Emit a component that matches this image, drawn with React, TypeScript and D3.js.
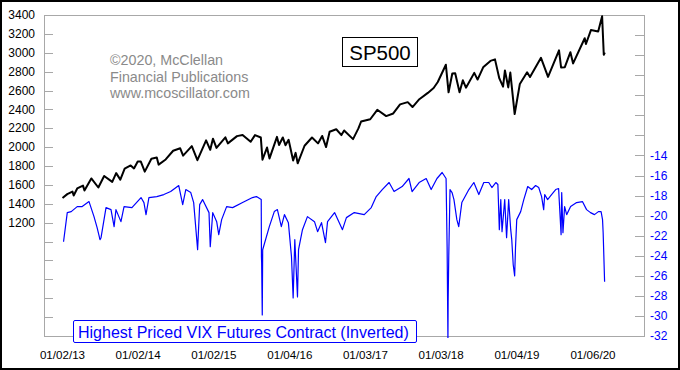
import React from "react";
import * as d3 from "d3";

// S&P 500 closes (approximate)
const spDates = [
  "2013-01-02", "2013-01-25", "2013-02-19", "2013-02-25", "2013-03-14", "2013-04-11", "2013-04-18",
  "2013-05-21", "2013-06-24", "2013-07-22", "2013-08-30", "2013-09-18", "2013-10-08", "2013-10-29",
  "2013-11-27", "2013-12-13", "2013-12-31", "2014-01-15", "2014-02-03", "2014-03-07", "2014-04-02",
  "2014-04-11", "2014-05-15", "2014-06-20", "2014-07-24", "2014-08-07", "2014-09-18", "2014-10-15",
  "2014-11-26", "2014-12-16", "2014-12-29", "2015-01-15", "2015-02-27", "2015-03-11", "2015-04-24",
  "2015-05-21", "2015-06-29", "2015-07-20", "2015-08-17", "2015-08-25", "2015-09-16", "2015-09-28",
  "2015-11-03", "2015-11-13", "2015-12-01", "2015-12-14", "2015-12-29", "2016-01-20", "2016-02-01",
  "2016-02-11", "2016-03-15", "2016-04-20", "2016-05-19", "2016-06-08", "2016-06-27", "2016-07-14",
  "2016-08-15", "2016-09-09", "2016-09-22", "2016-11-04", "2016-11-30", "2016-12-13", "2017-01-26",
  "2017-03-01", "2017-04-13", "2017-05-17", "2017-06-19", "2017-07-26", "2017-08-18", "2017-09-20",
  "2017-10-31", "2017-11-28", "2017-12-18", "2018-01-26", "2018-02-08", "2018-02-26", "2018-03-12",
  "2018-04-02", "2018-04-18", "2018-05-03", "2018-06-12", "2018-06-28", "2018-07-25", "2018-08-29",
  "2018-09-20", "2018-10-11", "2018-10-29", "2018-11-07", "2018-11-23", "2018-12-03", "2018-12-24",
  "2019-01-18", "2019-02-22", "2019-03-08", "2019-04-30", "2019-06-03", "2019-07-26", "2019-08-05",
  "2019-08-23", "2019-09-19", "2019-10-02", "2019-11-27", "2019-12-03", "2019-12-27", "2020-01-31",
  "2020-02-19", "2020-02-27", "2020-03-03",
];
const spClose = [
  1462, 1503, 1530, 1488, 1563, 1593, 1541,
  1669, 1573, 1695, 1633, 1725, 1656, 1772,
  1807, 1775, 1848, 1848, 1741, 1878, 1890,
  1815, 1870, 1962, 1988, 1910, 2011, 1862,
  2072, 1972, 2090, 1992, 2104, 2040, 2117,
  2130, 2057, 2128, 2102, 1868, 1996, 1881,
  2109, 2023, 2103, 2021, 2078, 1859, 1940,
  1829, 2015, 2102, 2040, 2119, 2001, 2163,
  2190, 2128, 2177, 2085, 2199, 2272, 2296,
  2396, 2329, 2357, 2453, 2477, 2425, 2508,
  2575, 2627, 2690, 2873, 2581, 2780, 2783,
  2582, 2708, 2630, 2787, 2716, 2846, 2914,
  2930, 2728, 2641, 2813, 2633, 2790, 2351,
  2670, 2793, 2743, 2946, 2744, 3026, 2845,
  2847, 3006, 2887, 3154, 3093, 3240, 3225,
  3386, 2979, 3003,
];

// Highest priced VIX futures contract, inverted
const vixDates = [
  "2013-01-07", "2013-01-25", "2013-02-13", "2013-03-14", "2013-04-07", "2013-05-10", "2013-06-03",
  "2013-06-18", "2013-07-02", "2013-07-07", "2013-07-31", "2013-08-24", "2013-09-08", "2013-09-17",
  "2013-10-11", "2013-10-26", "2013-12-03", "2014-01-16", "2014-01-30", "2014-02-09", "2014-02-23",
  "2014-04-02", "2014-05-06", "2014-06-08", "2014-07-17", "2014-08-05", "2014-08-20", "2014-09-13",
  "2014-09-27", "2014-10-16", "2014-10-26", "2014-11-09", "2014-12-10", "2014-12-16", "2014-12-28",
  "2015-01-16", "2015-01-26", "2015-02-09", "2015-03-05", "2015-04-03", "2015-05-21", "2015-07-08",
  "2015-07-27", "2015-08-19", "2015-08-20", "2015-08-21", "2015-08-24", "2015-08-26", "2015-09-27",
  "2015-10-21", "2015-11-05", "2015-11-24", "2015-12-09", "2015-12-28", "2016-01-12", "2016-01-20",
  "2016-01-28", "2016-02-10", "2016-02-15", "2016-03-05", "2016-03-29", "2016-05-02", "2016-05-17",
  "2016-06-05", "2016-06-24", "2016-07-04", "2016-08-07", "2016-09-14", "2016-10-03", "2016-11-10",
  "2016-12-28", "2017-01-31", "2017-02-24", "2017-03-25", "2017-04-27", "2017-05-21", "2017-06-29",
  "2017-08-01", "2017-08-16", "2017-09-19", "2017-10-23", "2017-11-16", "2017-12-14", "2018-01-08",
  "2018-01-27", "2018-02-01", "2018-02-05", "2018-02-06", "2018-02-09", "2018-02-15", "2018-02-25",
  "2018-03-06", "2018-03-20", "2018-03-29", "2018-04-13", "2018-05-17", "2018-06-10", "2018-07-04",
  "2018-07-28", "2018-08-21", "2018-09-05", "2018-09-24", "2018-10-04", "2018-10-11", "2018-10-18",
  "2018-10-24", "2018-11-06", "2018-11-15", "2018-11-25", "2018-12-05", "2018-12-10", "2018-12-17",
  "2018-12-24", "2018-12-28", "2019-01-03", "2019-01-22", "2019-02-06", "2019-02-25", "2019-03-16",
  "2019-04-04", "2019-04-19", "2019-05-03", "2019-05-13", "2019-05-18", "2019-06-01", "2019-06-20",
  "2019-07-10", "2019-07-24", "2019-08-05", "2019-08-08", "2019-08-14", "2019-08-22", "2019-09-01",
  "2019-09-20", "2019-10-19", "2019-11-16", "2019-12-06", "2019-12-25", "2020-01-13", "2020-02-01",
  "2020-02-14", "2020-02-21", "2020-02-24", "2020-03-02",
];
const vixValues = [
  -22.6, -19.7, -19.6, -19.1, -19.1, -18.6, -20.1,
  -21.2, -22.4, -22.2, -19.2, -19.4, -21.1, -19.4,
  -20.6, -19.1, -19.2, -18.2, -18.7, -19.9, -18.2,
  -18.1, -17.9, -17.6, -17.0, -18.9, -17.4, -17.7,
  -18.7, -23.4, -18.9, -18.4, -19.7, -23.1, -19.7,
  -20.6, -21.9, -20.4, -19.1, -19.2, -18.7, -18.2,
  -18.1, -18.4, -24.1, -24.7, -29.9, -23.4, -21.1,
  -19.6, -19.4, -21.1, -19.9, -20.7, -24.1, -28.2,
  -22.4, -28.1, -23.4, -21.4, -20.1, -20.6, -21.6,
  -20.7, -22.7, -20.6, -19.7, -21.4, -20.2, -19.7,
  -19.9, -19.2, -18.1, -17.4, -16.7, -17.6, -17.1,
  -16.3, -17.6, -16.7, -16.3, -17.4, -16.3, -15.7,
  -16.3, -23.1, -32.5, -28.5, -24.0, -17.4, -17.7,
  -18.4, -20.4, -21.1, -18.7, -17.4, -16.7, -17.9,
  -16.7, -16.7, -17.2, -16.7, -16.9, -21.4, -18.4,
  -21.6, -18.4, -22.2, -18.4, -21.4, -22.4, -24.9,
  -26.0, -23.2, -20.4, -19.6, -18.4, -17.1, -17.4,
  -17.0, -17.2, -18.1, -19.4, -17.9, -18.4, -17.9,
  -17.4, -17.3, -21.9, -17.7, -21.7, -19.1, -19.9,
  -19.1, -18.7, -18.6, -19.4, -19.7, -19.9, -19.6,
  -19.6, -20.4, -21.7, -26.6,
];

const xLabelDates = [
  "2013-01-02", "2014-01-02", "2015-01-02", "2016-01-04",
  "2017-01-03", "2018-01-03", "2019-01-04", "2020-01-06",
];

const noteLines = ["\u00a92020, McClellan", "Financial Publications", "www.mcoscillator.com"];

const W = 680;
const H = 370;
const left = 44;
const right = 644;
const top = 15;
const bottom = 336;
const font = "'Liberation Sans', Arial, sans-serif";

const parse = d3.utcParse("%Y-%m-%d");
const fmt = d3.utcFormat("%m/%d/%y");

export default function App() {
  const x = d3
    .scaleUtc()
    .domain([parse("2013-01-02")!, parse("2020-01-06")!])
    .range([62.5, 593]);
  const ySp = d3.scaleLinear().domain([0, 3400]).range([bottom, top]);
  const yVix = d3.scaleLinear().domain([-32, 0]).range([bottom, top]);

  const spData = spDates.map((d, i) => ({ date: parse(d)!, v: spClose[i] }));
  const vixData = vixDates.map((d, i) => ({ date: parse(d)!, v: vixValues[i] }));

  const spLine = d3
    .line<{ date: Date; v: number }>()
    .x((d) => x(d.date))
    .y((d) => ySp(d.v));
  const vixLine = d3
    .line<{ date: Date; v: number }>()
    .x((d) => x(d.date))
    .y((d) => yVix(d.v));

  const leftTicks = d3.range(0, 3401, 200);
  const rightTicks = d3.range(-32, 0.1, 2);

  return (
    <div style={{ position: "absolute", left: 0, top: 0 }}>
      <svg width={W} height={H} style={{ display: "block", fontFamily: font }}>
        <defs>
          <clipPath id="plot">
            <rect x={left} y={top} width={right - left} height={bottom - top + 2} />
          </clipPath>
        </defs>
        <rect x={0} y={0} width={W} height={H} fill="#fff" />
        <rect x={1} y={1} width={W - 2} height={H - 2} fill="none" stroke="#000" strokeWidth={2} />

        {/* plot frame */}
        <rect x={left + 0.5} y={top + 0.5} width={right - left} height={bottom - top} fill="none" stroke="#a8a8a8" />

        {/* left axis */}
        {leftTicks.map((t) => (
          <g key={"l" + t}>
            <line x1={left} x2={left + 9} y1={Math.round(ySp(t)) + 0.5} y2={Math.round(ySp(t)) + 0.5} stroke="#a8a8a8" />
            {t >= 1200 && (
              <text x={35} y={ySp(t)} dy="0.35em" textAnchor="end" fontSize={12} fill="#000">
                {t}
              </text>
            )}
          </g>
        ))}

        {/* right axis */}
        {rightTicks.map((t) => (
          <g key={"r" + t}>
            <line x1={right - 9} x2={right} y1={Math.round(yVix(t)) + 0.5} y2={Math.round(yVix(t)) + 0.5} stroke="#a8a8a8" />
            {t <= -14 && (
              <text x={650} y={yVix(t)} dy="0.35em" textAnchor="start" fontSize={12} fill="#0000ff">
                {t}
              </text>
            )}
          </g>
        ))}

        {/* x labels */}
        {xLabelDates.map((d) => (
          <text key={d} x={x(parse(d)!)} y={359} textAnchor="middle" fontSize={11.6} fill="#000">
            {fmt(parse(d)!)}
          </text>
        ))}

        {/* copyright note */}
        {noteLines.map((s, i) => (
          <text key={s} x={110} y={65 + i * 16.7} fontSize={14.3} fill="#8a8a8a">
            {s}
          </text>
        ))}

        {/* series */}
        <g clipPath="url(#plot)">
          <path d={vixLine(vixData) || ""} fill="none" stroke="#0000ff" strokeWidth={1.2} strokeLinejoin="round" />
          <path d={spLine(spData) || ""} fill="none" stroke="#000" strokeWidth={2} strokeLinejoin="round" />
        </g>

        {/* title box */}
        <rect x={342.5} y={37.5} width={75} height={29} fill="#fff" stroke="#000" />
        <text x={380} y={60} textAnchor="middle" fontSize={20.5} fill="#000">
          SP500
        </text>

        {/* legend box */}
        <rect x={73.5} y={320.5} width={343} height={22} rx={1.5} fill="#fff" stroke="#0000ff" />
        <text x={78} y={338} fontSize={16} fill="#0000ff">
          Highest Priced VIX Futures Contract (Inverted)
        </text>
      </svg>
    </div>
  );
}
